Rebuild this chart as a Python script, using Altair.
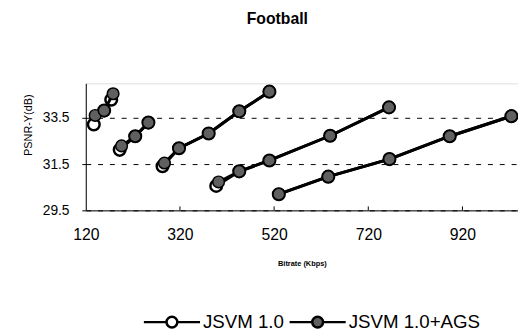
import altair as alt
import pandas as pd

# ---- data (Bitrate in Kbps, PSNR-Y in dB) ----
series_names = ["JSVM 1.0", "JSVM 1.0+AGS"]

jsvm_g1_kbps = [137, 159, 174]
jsvm_g1_psnr = [33.22, 33.82, 34.29]
ags_g1_kbps = [140, 159, 178]
ags_g1_psnr = [33.61, 33.82, 34.55]

jsvm_g2_kbps = [192, 225, 253]
jsvm_g2_psnr = [32.12, 32.71, 33.30]
ags_g2_kbps = [196, 225, 253]
ags_g2_psnr = [32.29, 32.71, 33.30]

jsvm_g3_kbps = [283, 318, 381, 446, 510]
jsvm_g3_psnr = [31.41, 32.19, 32.83, 33.79, 34.64]
ags_g3_kbps = [287, 318, 381, 446, 510]
ags_g3_psnr = [31.55, 32.19, 32.83, 33.79, 34.64]

jsvm_g4_kbps = [397, 446, 510, 639, 764]
jsvm_g4_psnr = [30.56, 31.19, 31.66, 32.73, 33.96]
ags_g4_kbps = [402, 446, 510, 639, 764]
ags_g4_psnr = [30.73, 31.19, 31.66, 32.73, 33.96]

jsvm_g5_kbps = [530, 635, 765, 893, 1024]
jsvm_g5_psnr = [30.20, 30.96, 31.72, 32.71, 33.58]
ags_g5_kbps = [530, 635, 765, 893, 1024]
ags_g5_psnr = [30.20, 30.96, 31.72, 32.71, 33.58]

x_ticks = [120, 320, 520, 720, 920]
y_ticks = [29.5, 31.5, 33.5]

jsvm = [(jsvm_g1_kbps, jsvm_g1_psnr), (jsvm_g2_kbps, jsvm_g2_psnr),
        (jsvm_g3_kbps, jsvm_g3_psnr), (jsvm_g4_kbps, jsvm_g4_psnr),
        (jsvm_g5_kbps, jsvm_g5_psnr)]
ags = [(ags_g1_kbps, ags_g1_psnr), (ags_g2_kbps, ags_g2_psnr),
       (ags_g3_kbps, ags_g3_psnr), (ags_g4_kbps, ags_g4_psnr),
       (ags_g5_kbps, ags_g5_psnr)]

rows = []
for name, groups in zip(series_names, [jsvm, ags]):
    for gi, (ks, ps) in enumerate(groups):
        for k, p in zip(ks, ps):
            rows.append({"series": name, "group": f"{name}-{gi}", "kbps": k, "psnr": p})
df = pd.DataFrame(rows)
ticks_df = pd.DataFrame({"t": x_ticks[1:]})

FONT = "Liberation Sans"
W, H = 439, 129

x_enc = alt.X("kbps:Q",
              scale=alt.Scale(domain=[120, 1038], nice=False, zero=False),
              axis=alt.Axis(values=x_ticks, format="d", tickSize=0, labelPadding=17,
                            labelFlush=False,
                            labelFontSize=16, labelFont=FONT, labelColor="black",
                            domainColor="black", grid=False,
                            title="Bitrate (Kbps)", titleFont=FONT, titleFontSize=7.5,
                            titleFontWeight="bold", titleColor="black",
                            titleBaseline="middle", titleY=54))
y_enc = alt.Y("psnr:Q",
              scale=alt.Scale(domain=[29.5, 35], nice=False, zero=False),
              axis=alt.Axis(values=y_ticks, format=".1f", tickSize=4, tickColor="black",
                            labelPadding=13, labelFontSize=14, labelFont=FONT,
                            labelColor="black", domainColor="black", labelFlush=False,
                            grid=True, gridColor="black", gridDash=[5, 7], gridWidth=1,
                            title="PSNR-Y(dB)", titleFont=FONT, titleFontSize=11,
                            titleFontWeight="normal", titleColor="black",
                            titleBaseline="middle", titleX=-58, titleY=42))

legend_path = ("M-5.7,0L-1.1,0M1.1,0L5.7,0"
               "M-1.1,0A1.1,1.1,0,1,1,1.1,0A1.1,1.1,0,1,1,-1.1,0Z")
fill_enc = alt.Fill("series:N",
                    scale=alt.Scale(domain=series_names, range=["white", "#606060"]),
                    legend=alt.Legend(title=None, orient="none", legendX=78, legendY=233,
                                      direction="horizontal", symbolType=legend_path,
                                      symbolSize=100, symbolStrokeWidth=2.5,
                                      symbolStrokeColor="black", symbolOpacity=1,
                                      labelFontSize=19, labelFont=FONT, labelColor="black",
                                      labelOffset=22, columnPadding=0, padding=0))

base = alt.Chart(df)

tick_rules = alt.Chart(ticks_df).mark_rule(color="black", strokeWidth=1).encode(
    x=alt.X("t:Q"), y=alt.value(H - 4), y2=alt.value(H))

def line_layer(name):
    return base.transform_filter(alt.datum.series == name).mark_line(
        color="black", strokeWidth=3).encode(x=x_enc, y=y_enc, detail="group:N",
                                            order="kbps:Q")

def point_layer(name, sw):
    return base.transform_filter(alt.datum.series == name).mark_point(
        shape="circle", filled=True, size=140, stroke="black", strokeWidth=sw,
        opacity=1).encode(x=x_enc, y=y_enc, fill=fill_enc)

chart = alt.layer(
    tick_rules,
    line_layer("JSVM 1.0"),
    point_layer("JSVM 1.0", 2.5),
    line_layer("JSVM 1.0+AGS"),
    point_layer("JSVM 1.0+AGS", 1.5),
).properties(
    width=W, height=H,
    title=alt.TitleParams(text="Football", font=FONT, fontSize=16, fontWeight="bold",
                          color="black", anchor="middle", baseline="middle",
                          offset=47, dx=-25),
    autosize=alt.AutoSizeParams(type="none"),
    padding={"left": 79, "top": 74, "right": 0, "bottom": 120},
).configure_view(stroke="#888888", strokeWidth=1).configure(background="white")

chart.save("out.html", embed_options={"renderer": "svg", "actions": False})
